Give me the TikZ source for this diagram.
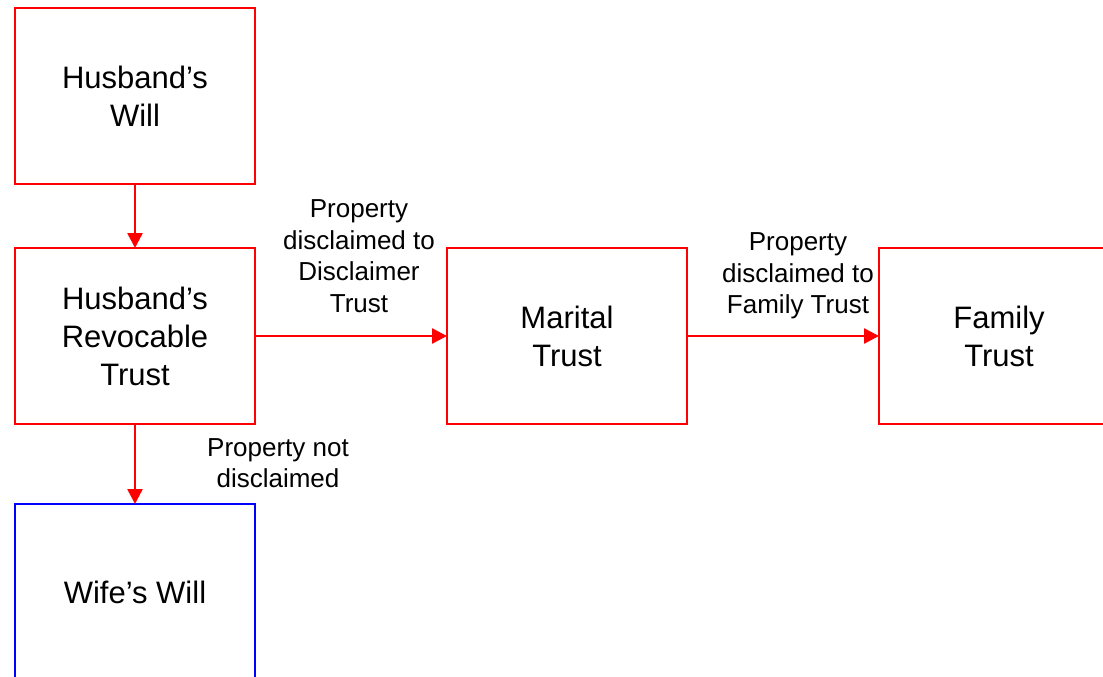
\documentclass[tikz,border=0pt]{standalone}
\usepackage{fontspec}
\setmainfont{Liberation Sans}
\usetikzlibrary{arrows.meta}
\definecolor{rd}{RGB}{255,0,0}
\definecolor{bl}{RGB}{0,0,255}
\tikzset{
  box/.style={draw=rd, line width=2.5pt, minimum width=240pt, minimum height=176pt,
    align=center, inner sep=0pt, outer sep=0pt, font=\fontsize{31}{38}\selectfont},
  bluebox/.style={box, draw=bl},
  lbl/.style={align=center, inner sep=0pt, font=\fontsize{26}{31.5}\selectfont},
  conn/.style={draw=rd, line width=2.5pt, -{Triangle[length=15pt,width=15pt]}}
}
\begin{document}
\begin{tikzpicture}[x=1pt,y=-1pt]
\useasboundingbox (0,0) rectangle (1103,677);
\clip (0,0) rectangle (1103,677);
\node[box] (hw) at (135,96) {Husband’s\\Will};
\node[box] (hrt) at (135,336) {Husband’s\\Revocable\\Trust};
\node[box] (mt) at (567,336) {Marital\\Trust};
\node[box] (ft) at (999,336) {Family\\Trust};
\node[bluebox] (ww) at (135,592) {Wife’s Will};
\draw[conn] (hw.south) -- (hrt.north);
\draw[conn] (hrt.east) -- (mt.west);
\draw[conn] (mt.east) -- (ft.west);
\draw[conn] (hrt.south) -- (ww.north);
\node[lbl] (l1) at (359,256) {Property\\disclaimed to\\Disclaimer\\Trust};
\node[lbl] (l2) at (798,276) {Property\\disclaimed to\\Family Trust};
\node[lbl] (l3) at (278,463) {Property not\\disclaimed};
\end{tikzpicture}
\end{document}
